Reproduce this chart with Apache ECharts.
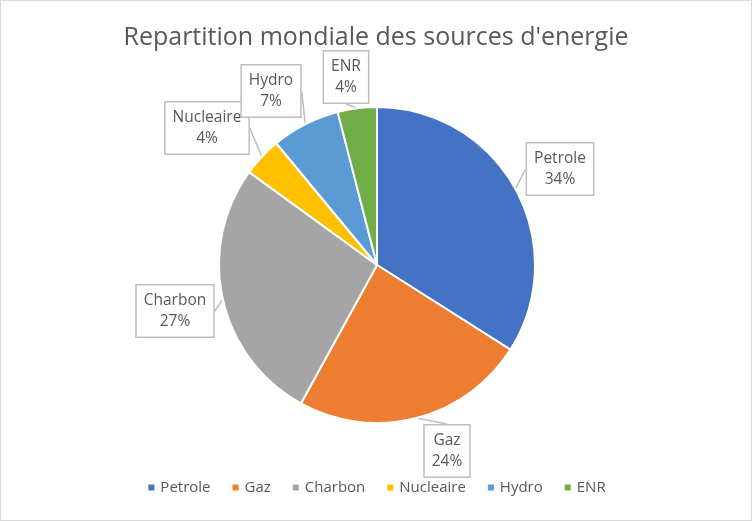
<!DOCTYPE html>
<html lang="fr">
<head>
<meta charset="UTF-8">
<title>Repartition mondiale des sources d'energie</title>
<style>
  * { margin: 0; padding: 0; }
  html, body { width: 100%; height: 100%; background: #fff; }
  #chart { position: absolute; left: 0; top: 0; width: 750px; height: 519px; border: 1px solid #d9d9d9; }
</style>
</head>
<body>
<div id="chart"></div>
<script src="https://cdn.jsdelivr.net/npm/echarts@6/dist/echarts.min.js"></script>
<script>
  var sources = ['Petrole', 'Gaz', 'Charbon', 'Nucleaire', 'Hydro', 'ENR'];
  var parts = [34, 24, 27, 4, 7, 4];
  var colors = ['#4472c4', '#ed7d31', '#a5a5a5', '#ffc000', '#5b9bd5', '#70ad47'];

  // where the callout boxes sit (centre of each box)
  var boxPos = [[559, 168], [446, 450], [174, 310], [206, 127], [270, 90], [345, 76]];

  var data = sources.map(function (s, i) {
    return { name: s, value: parts[i] };
  });

  var chart = echarts.init(document.getElementById('chart'));
  chart.setOption({
    color: colors,
    title: {
      text: "Repartition mondiale des sources d'energie",
      left: 'center',
      top: 19,
      textStyle: { fontFamily: 'Open Sans', fontSize: 25, fontWeight: 'normal', color: '#595959' }
    },
    legend: {
      bottom: 20,
      left: 'center',
      icon: 'rect',
      itemWidth: 8,
      itemHeight: 8,
      itemGap: 20,
      textStyle: { fontFamily: 'Open Sans', fontSize: 15, color: '#595959' },
      data: sources
    },
    series: [{
      type: 'pie',
      center: [376, 264],
      radius: 158,
      startAngle: 90,
      clockwise: true,
      animation: false,
      data: data,
      itemStyle: { borderColor: '#fff', borderWidth: 2 },
      label: {
        formatter: '{b}\n{d}%',
        fontFamily: 'Open Sans',
        fontSize: 15.5,
        lineHeight: 21,
        color: '#595959',
        align: 'center',
        backgroundColor: '#fff',
        borderColor: '#bfbfbf',
        borderWidth: 1.5,
        padding: [5, 7, 4, 7]
      },
      labelLine: {
        show: true,
        length: 10,
        length2: 0,
        lineStyle: { color: '#bfbfbf', width: 1.5 }
      },
      labelLayout: function (p) {
        var pos = boxPos[p.dataIndex];
        return { x: pos[0], y: pos[1], align: 'center', verticalAlign: 'middle' };
      }
    }]
  });
</script>
</body>
</html>
